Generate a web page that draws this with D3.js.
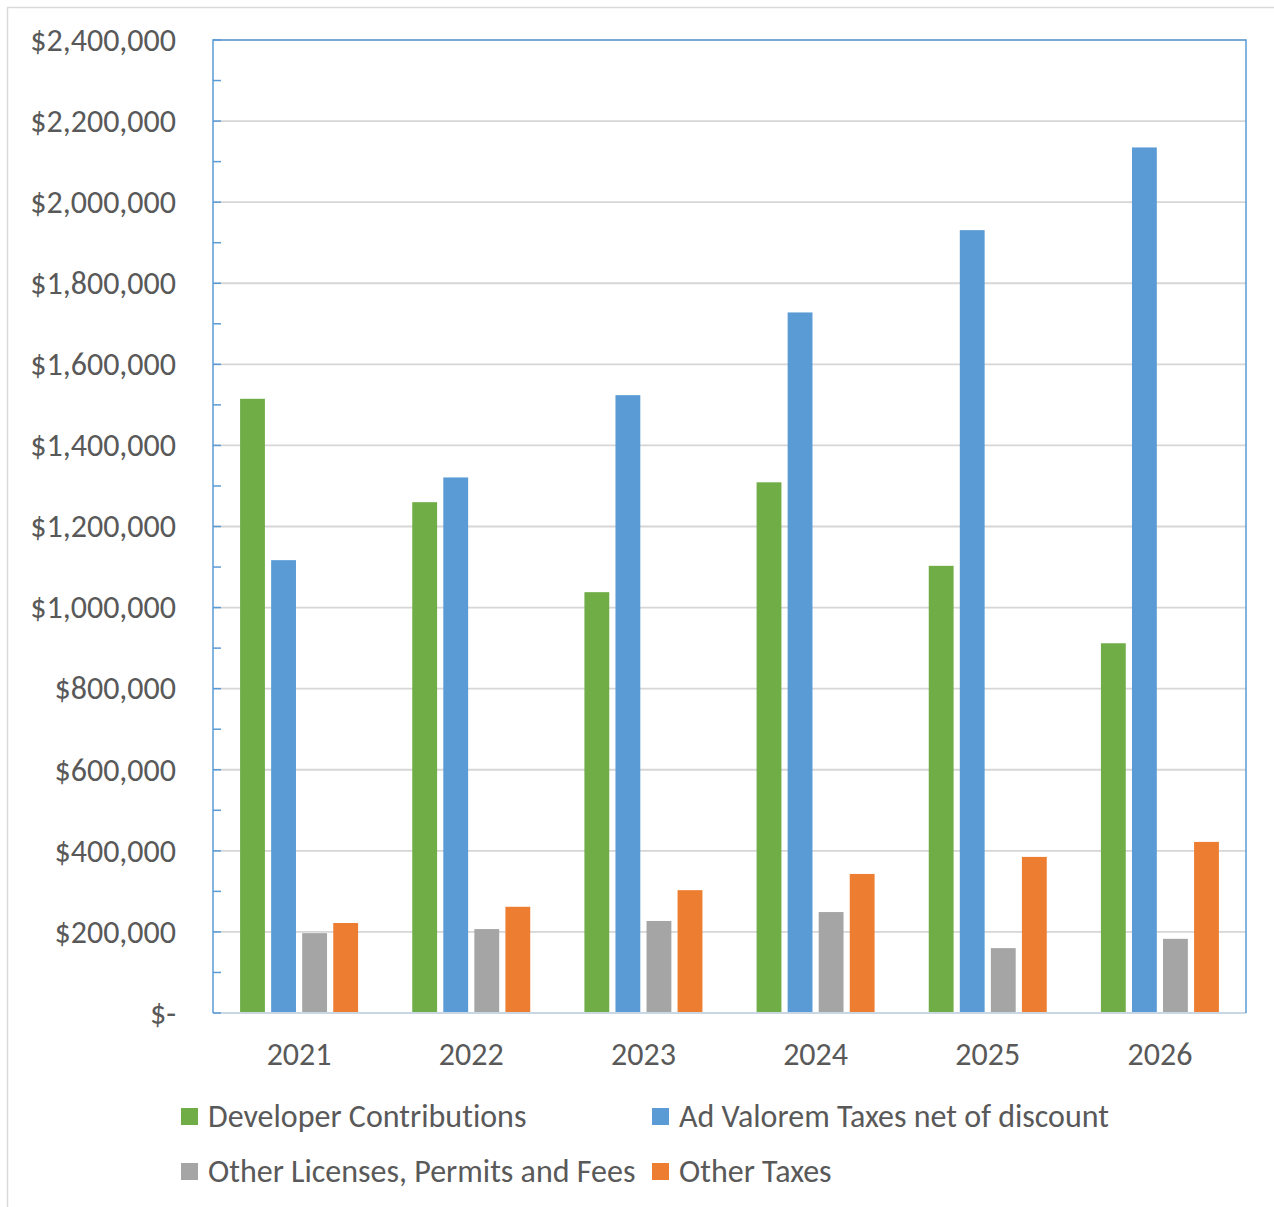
<!DOCTYPE html>
<html>
<head>
<meta charset="utf-8">
<script src="https://cdn.jsdelivr.net/npm/d3@7/dist/d3.min.js"></script>
<style>
  html, body { margin: 0; padding: 0; background: #fff; }
  svg { display: block; }
  text { font-family: Carlito, Calibri, Lato, sans-serif; fill: #595959; font-variant-ligatures: none; }
</style>
</head>
<body>
<svg id="chart" width="1274" height="1207"></svg>
<script>
// Revenue by source, fiscal years 2021–2026
const years = ["2021", "2022", "2023", "2024", "2025", "2026"];
const seriesNames = [
  "Developer Contributions",
  "Ad Valorem Taxes net of discount",
  "Other Licenses, Permits and Fees",
  "Other Taxes"
];
const developerContributions = [1515000, 1260000, 1038000, 1309000, 1103000, 912000];
const adValoremTaxes = [1117000, 1321000, 1524000, 1728000, 1931000, 2135000];
const otherLicensesFees = [197000, 207000, 227000, 249000, 160000, 183000];
const otherTaxes = [222000, 262000, 303000, 343000, 385000, 422000];
const seriesColors = ["#70ad47", "#5b9bd5", "#a5a5a5", "#ed7d31"];
const yTicks = [0, 200000, 400000, 600000, 800000, 1000000, 1200000, 1400000,
                1600000, 1800000, 2000000, 2200000, 2400000];

const seriesValues = [developerContributions, adValoremTaxes, otherLicensesFees, otherTaxes];

const svg = d3.select("#chart");
const plot = { left: 213, right: 1246, top: 40, bottom: 1013 };
const fontSize = 32;

// Outer chart frame
svg.append("rect")
  .attr("x", 7.5).attr("y", 7.5)
  .attr("width", 1290).attr("height", 1230)
  .attr("fill", "none").attr("stroke", "#d9d9d9").attr("stroke-width", 1.5);

const y = d3.scaleLinear().domain([0, 2400000]).range([plot.bottom, plot.top]);
const x = d3.scaleBand().domain(years).range([plot.left, plot.right]).padding(0);
const groupWidth = 118;
const xInner = d3.scaleBand().domain(seriesNames).range([0, groupWidth]).paddingInner(0.2);

// Horizontal gridlines
svg.append("g")
  .selectAll("line")
  .data(yTicks.filter(d => d > 0))
  .join("line")
  .attr("x1", plot.left).attr("x2", plot.right)
  .attr("y1", d => y(d)).attr("y2", d => y(d))
  .attr("stroke", "#d6d6d6").attr("stroke-width", 1.8);

// Bars
const groups = svg.append("g")
  .selectAll("g")
  .data(years)
  .join("g")
  .attr("transform", d => `translate(${x(d) + x.bandwidth() / 2 - groupWidth / 2},0)`);

groups.selectAll("rect")
  .data((yr, i) => seriesNames.map((s, j) => ({ s, j, v: seriesValues[j][i] })))
  .join("rect")
  .attr("x", d => xInner(d.s))
  .attr("width", xInner.bandwidth())
  .attr("y", d => y(d.v))
  .attr("height", d => y(0) - y(d.v))
  .attr("fill", d => seriesColors[d.j]);

// Plot-area frame
svg.append("line")
  .attr("x1", plot.left).attr("x2", plot.right)
  .attr("y1", plot.bottom).attr("y2", plot.bottom)
  .attr("stroke", "#c9d6e3").attr("stroke-width", 2);
svg.append("path")
  .attr("d", `M${plot.left},${plot.bottom}V${plot.top}H${plot.right}V${plot.bottom}`)
  .attr("fill", "none").attr("stroke", "#5b9bd5").attr("stroke-width", 1.5);

// Y axis with labels and inward minor ticks
const fmt = d => d === 0 ? "$-" : "$" + d3.format(",")(d);
const yAxis = d3.axisLeft(y)
  .tickValues(yTicks)
  .tickFormat(fmt)
  .tickSize(0)
  .tickPadding(37);
const yg = svg.append("g")
  .attr("transform", `translate(${plot.left},0)`)
  .call(yAxis);
yg.select(".domain").remove();
yg.selectAll("text")
  .attr("font-size", fontSize)
  .attr("fill", "#595959")
  .style("font-family", "Carlito, Calibri, Lato, sans-serif");

const minorTicks = d3.range(0, 2400001, 100000);
svg.append("g")
  .selectAll("line")
  .data(minorTicks)
  .join("line")
  .attr("x1", plot.left).attr("x2", plot.left + 8)
  .attr("y1", d => y(d)).attr("y2", d => y(d))
  .attr("stroke", "#5b9bd5").attr("stroke-width", 1.5);

// X axis labels
const xAxis = d3.axisBottom(x).tickSize(0).tickPadding(29);
const xg = svg.append("g")
  .attr("transform", `translate(0,${plot.bottom})`)
  .call(xAxis);
xg.select(".domain").remove();
xg.selectAll("text")
  .attr("font-size", fontSize)
  .attr("fill", "#595959")
  .style("font-family", "Carlito, Calibri, Lato, sans-serif");

// Legend
const legendPos = [
  { x: 181, y: 1116 }, { x: 652, y: 1116 },
  { x: 181, y: 1171 }, { x: 652, y: 1171 }
];
const legend = svg.append("g")
  .selectAll("g")
  .data(seriesNames)
  .join("g")
  .attr("transform", (d, i) => `translate(${legendPos[i].x},${legendPos[i].y})`);
legend.append("rect")
  .attr("x", 0).attr("y", -8).attr("width", 17).attr("height", 17)
  .attr("fill", (d, i) => seriesColors[i]);
legend.append("text")
  .attr("x", 27).attr("y", 0)
  .attr("dy", "0.35em")
  .attr("font-size", fontSize)
  .text(d => d);
</script>
</body>
</html>
